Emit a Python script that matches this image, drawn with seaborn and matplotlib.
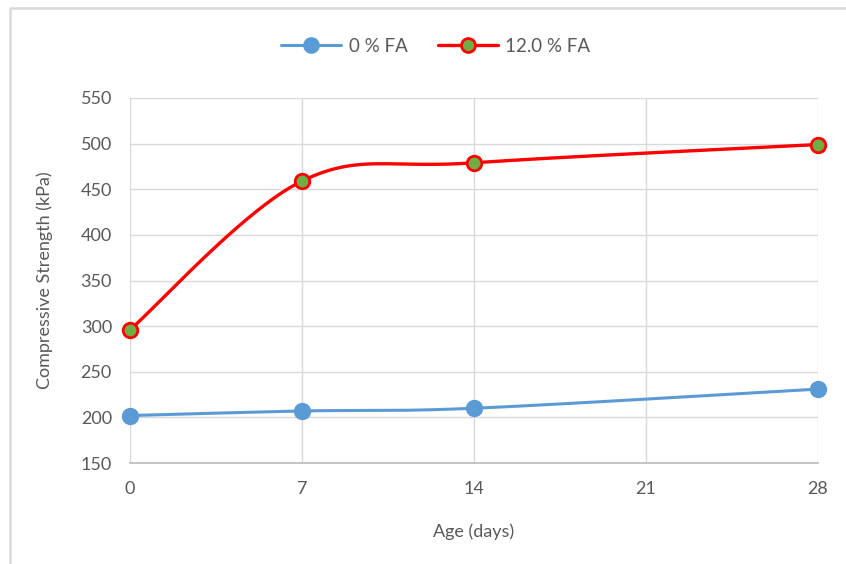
import numpy as np
import pandas as pd
import matplotlib
matplotlib.use("Agg")
import matplotlib.pyplot as plt
from matplotlib.lines import Line2D
import seaborn as sns

age_days = [0, 7, 14, 28]
fa0_strength = [202, 207, 210, 231]
fa12_strength = [296, 459, 479, 499]
series_labels = ["0 % FA", "12.0 % FA"]
x_ticks = [0, 7, 14, 21, 28]
y_ticks = [150, 200, 250, 300, 350, 400, 450, 500, 550]

sns.set_theme(style="white")
plt.rcParams["font.family"] = ["Lato", "DejaVu Sans"]

TXT = "#595959"
GRID = "#d9d9d9"


def smooth(xs, ys, n=60):
    """Excel-like smoothed line rendering (Catmull-Rom Bezier) through the data points."""
    P = np.column_stack([xs, ys]).astype(float)
    ext = np.vstack([P[0], P, P[-1]])
    out = []
    t = np.linspace(0, 1, n)[:, None]
    for i in range(len(P) - 1):
        p0, p1, p2, p3 = ext[i], ext[i + 1], ext[i + 2], ext[i + 3]
        c1 = p1 + (p2 - p0) / 6
        c2 = p2 - (p3 - p1) / 6
        seg = ((1 - t) ** 3) * p1 + 3 * ((1 - t) ** 2) * t * c1 + 3 * (1 - t) * t ** 2 * c2 + t ** 3 * p2
        out.append(seg if i == 0 else seg[1:])
    c = np.vstack(out)
    return pd.DataFrame({"x": c[:, 0], "y": c[:, 1]})


fig = plt.figure(figsize=(8.46, 5.64), dpi=100)
ax = fig.add_axes([130 / 846, 1 - 463 / 564, (818 - 130) / 846, (463 - 98) / 564])

# chart border (top and left edges only visible)
fig.add_artist(Line2D([10 / 846, 10 / 846, 846 / 846], [0, 1 - 8 / 564, 1 - 8 / 564],
                      transform=fig.transFigure, color="#d9d9d9", linewidth=1.8))

styles = [
    dict(line="#5b9bd5", face="#5b9bd5", edge="#5b9bd5", lw=2.2),
    dict(line="#ff0000", face="#70ad47", edge="#ff0000", lw=2.4),
]
series = [fa0_strength, fa12_strength]

for vals, st in zip(series, styles):
    curve = smooth(age_days, vals)
    sns.lineplot(data=curve, x="x", y="y", ax=ax, color=st["line"], linewidth=st["lw"],
                 sort=False, estimator=None, zorder=3)
    pts = pd.DataFrame({"x": age_days, "y": vals})
    sns.scatterplot(data=pts, x="x", y="y", ax=ax, s=110, color=st["face"],
                    edgecolor=st["edge"], linewidth=2, zorder=4, clip_on=False)

ax.set_xlim(0, 28)
ax.set_ylim(150, 550)
ax.set_xticks(x_ticks)
ax.set_yticks(y_ticks)
ax.grid(True, color=GRID, linewidth=1)
ax.set_axisbelow(True)
for s in ["top", "right", "left"]:
    ax.spines[s].set_visible(False)
ax.spines["bottom"].set_color("#bfbfbf")
ax.spines["bottom"].set_linewidth(1.3)
ax.tick_params(axis="both", colors=TXT, labelsize=13, length=0)
ax.tick_params(axis="x", pad=13)
ax.tick_params(axis="y", pad=13)
ax.set_xlabel("Age (days)", color=TXT, fontsize=13, labelpad=19)
ax.set_ylabel("Compressive Strength (kPa)", color=TXT, fontsize=13, labelpad=20)

handles = [
    Line2D([0], [0], color=st["line"], linewidth=st["lw"], marker="o", markersize=10,
           markerfacecolor=st["face"], markeredgecolor=st["edge"], markeredgewidth=2)
    for st in styles
]
fig.legend(handles, series_labels, loc="center", bbox_to_anchor=(0.515, 1 - 46 / 564), ncol=2,
           frameon=False, fontsize=13.5, labelcolor=TXT, handlelength=3.2, columnspacing=1.6,
           handletextpad=0.4)

fig.savefig("out.png", dpi=100)
